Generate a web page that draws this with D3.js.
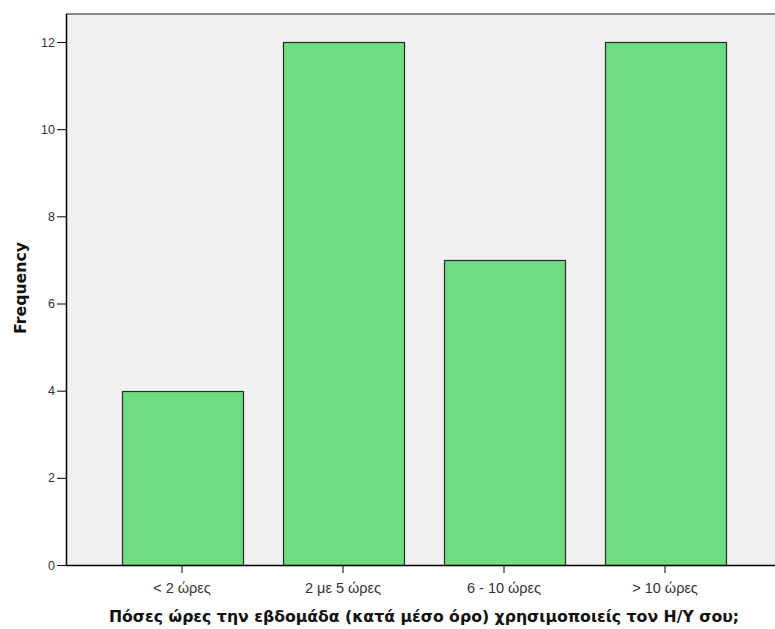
<!DOCTYPE html>
<html>
<head>
<meta charset="utf-8">
<script src="https://cdn.jsdelivr.net/npm/d3@7"></script>
<style>
  html, body { margin: 0; padding: 0; background: #fff; }
  svg { display: block; font-family: "Liberation Sans", Arial, sans-serif; }
</style>
</head>
<body>
<svg id="chart" width="775" height="629"></svg>
<script>
// Weekly computer-use hours: response categories and counts
const categories = ["< 2 ώρες", "2 με 5 ώρες", "6 - 10 ώρες", "> 10 ώρες"];
const frequencies = [4, 12, 7, 12];
const yTicks = [0, 2, 4, 6, 8, 10, 12];
const xTitle = "Πόσες ώρες την εβδομάδα (κατά μέσο όρο) χρησιμοποιείς τον Η/Υ σου;";
const yTitle = "Frequency";

const svg = d3.select("#chart");

// Plot frame (the panel runs slightly past the right edge of the canvas)
const plot = { left: 66, right: 781, top: 14, bottom: 565 };

const inner = 40 / 161;
const x = d3.scaleBand()
  .domain(categories)
  .range([101.5, 745.5])
  .paddingInner(inner)
  .paddingOuter(inner / 2);

const y = d3.scaleLinear()
  .domain([0, 12])
  .range([plot.bottom, 42]);

// Background panel
svg.append("rect")
  .attr("x", plot.left)
  .attr("y", plot.top)
  .attr("width", plot.right - plot.left)
  .attr("height", plot.bottom - plot.top)
  .attr("fill", "#f0f0f0");

// Top frame line
svg.append("line")
  .attr("x1", plot.left).attr("x2", plot.right)
  .attr("y1", plot.top).attr("y2", plot.top)
  .attr("stroke", "#888").attr("stroke-width", 2);

// Bars
svg.append("g").selectAll("rect")
  .data(categories.map((c, i) => ({ c, v: frequencies[i] })))
  .join("rect")
  .attr("x", d => Math.round(x(d.c)) + 0.5)
  .attr("y", d => Math.round(y(d.v)) + 0.5)
  .attr("width", d => Math.round(x.bandwidth()))
  .attr("height", d => Math.round(y(0)) - Math.round(y(d.v)))
  .attr("fill", "#70dc82")
  .attr("stroke", "#2a2a2a")
  .attr("stroke-width", 1.2);

// Y axis
const yAxis = svg.append("g")
  .attr("transform", `translate(${plot.left},0)`)
  .call(d3.axisLeft(y).tickValues(yTicks).tickSize(9).tickPadding(2).tickFormat(d3.format("d")));
yAxis.select(".domain").attr("d", `M0.5,${plot.top}V${plot.bottom + 0.5}`).attr("stroke", "#000").attr("stroke-width", 1.5);
yAxis.selectAll(".tick line").attr("stroke", "#000");
yAxis.selectAll("text").attr("font-size", 12.5).attr("fill", "#333");

// X axis
const xAxis = svg.append("g")
  .attr("transform", `translate(0,${plot.bottom})`)
  .call(d3.axisBottom(x).tickSize(8).tickPadding(10));
xAxis.select(".domain").attr("d", `M${plot.left},0.5H${plot.right}`).attr("stroke", "#000").attr("stroke-width", 1.5);
xAxis.selectAll(".tick line").attr("stroke", "#000");
xAxis.selectAll("text").attr("font-size", 14.5).attr("fill", "#333");

// Axis titles
svg.append("text")
  .attr("x", 424).attr("y", 622)
  .attr("text-anchor", "middle")
  .attr("font-family", "'DejaVu Sans', Verdana, sans-serif")
  .attr("font-size", 15.7).attr("font-weight", "bold").attr("fill", "#111")
  .text(xTitle);

svg.append("text")
  .attr("transform", "translate(26,288) rotate(-90)")
  .attr("text-anchor", "middle")
  .attr("font-family", "'DejaVu Sans', Verdana, sans-serif")
  .attr("font-size", 15.7).attr("font-weight", "bold").attr("fill", "#111")
  .text(yTitle);
</script>
</body>
</html>
